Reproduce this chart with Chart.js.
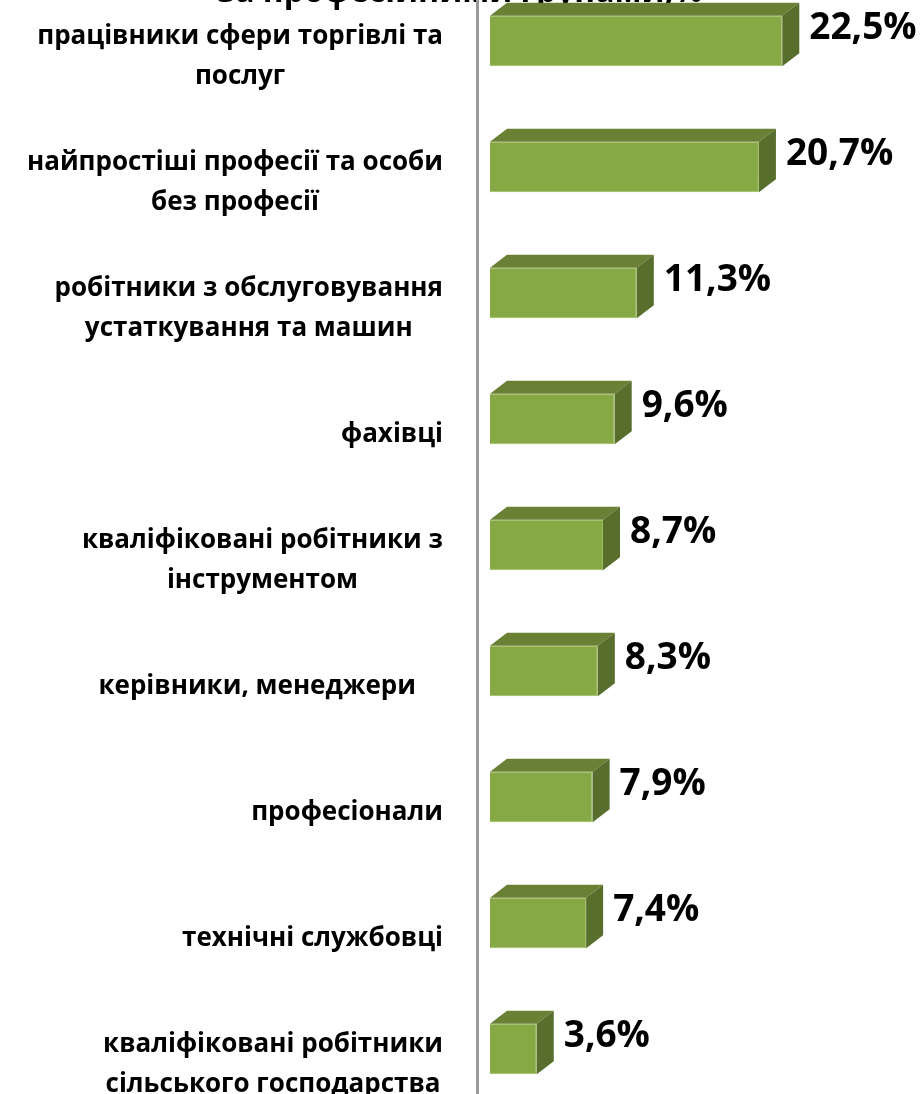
<!DOCTYPE html>
<html>
<head>
<meta charset="utf-8">
<script src="https://cdn.jsdelivr.net/npm/chart.js@4/dist/chart.umd.min.js"></script>
<style>
  html, body { margin: 0; padding: 0; background: #fff; overflow: hidden; width: 920px; height: 1094px; }
  #wrap { position: absolute; left: 0; top: -60px; width: 920px; height: 1172px; }
</style>
</head>
<body>
<div id="wrap"><canvas id="chart" width="920" height="1172"></canvas></div>
<script>
// data
const categories = [
  ['працівники сфери торгівлі та', 'послуг'],
  ['найпростіші професії та особи', 'без професії'],
  ['робітники з обслуговування', 'устаткування та машин'],
  ['фахівці'],
  ['кваліфіковані робітники з', 'інструментом'],
  ['керівники, менеджери    '],
  ['професіонали'],
  ['технічні службовці'],
  ['кваліфіковані робітники', 'сільського господарства']
];
const shares = [22.5, 20.7, 11.3, 9.6, 8.7, 8.3, 7.9, 7.4, 3.6];
const titleText = 'за професійними групами,%';

const FONT = '"Open Sans", "Noto Sans", sans-serif';
const DX = 17, DY = 13;   // 3d depth of the bars

// fake 3d: top + side faces, value labels, category labels
const bar3d = {
  id: 'bar3d',
  afterDatasetsDraw(chart) {
    const ctx = chart.ctx;
    const meta = chart.getDatasetMeta(0);
    ctx.save();
    meta.data.forEach((bar, i) => {
      const p = bar.getProps(['x', 'y', 'base', 'height'], true);
      const x0 = p.base, x1 = p.x;
      const top = p.y - p.height / 2, bot = p.y + p.height / 2;

      ctx.fillStyle = '#6A8035';
      ctx.beginPath();
      ctx.moveTo(x0, top);
      ctx.lineTo(x0 + DX, top - DY);
      ctx.lineTo(x1 + DX, top - DY);
      ctx.lineTo(x1, top);
      ctx.closePath();
      ctx.fill();

      ctx.fillStyle = '#576E2C';
      ctx.beginPath();
      ctx.moveTo(x1, top);
      ctx.lineTo(x1 + DX, top - DY);
      ctx.lineTo(x1 + DX, bot - DY);
      ctx.lineTo(x1, bot);
      ctx.closePath();
      ctx.fill();

      // value label
      ctx.fillStyle = '#000';
      ctx.font = 'bold 37px ' + FONT;
      ctx.textAlign = 'left';
      ctx.textBaseline = 'middle';
      ctx.fillText(shares[i].toFixed(1).replace('.', ',') + '%', x1 + DX + 10, top + 13);
    });

    // category labels, lines centred within block, block right aligned
    const yScale = chart.scales.y;
    ctx.font = 'bold 26px ' + FONT;
    ctx.textAlign = 'center';
    ctx.textBaseline = 'middle';
    ctx.fillStyle = '#000';
    categories.forEach((lines, i) => {
      const w = Math.max(...lines.map(l => ctx.measureText(l).width));
      const cx = 443 - w / 2;
      const cy = yScale.getPixelForTick(i) + 16;
      const lh = 40;
      lines.forEach((l, k) => {
        ctx.fillText(l, cx, cy + (k - (lines.length - 1) / 2) * lh);
      });
    });
    ctx.restore();
  }
};

new Chart(document.getElementById('chart'), {
  type: 'bar',
  data: {
    labels: categories,
    datasets: [{
      data: shares,
      backgroundColor: '#86A845',
      borderColor: '#9DBB5E',
      borderWidth: 1,
      categoryPercentage: 1,
      barPercentage: 0.4
    }]
  },
  options: {
    indexAxis: 'y',
    responsive: false,
    animation: false,
    devicePixelRatio: 1,
    layout: { padding: 0 },
    scales: {
      x: { display: false, min: -1, max: 33.1 },
      y: {
        ticks: { display: false },
        grid: { display: false },
        border: { display: true, color: '#9A9A9A', width: 3 },
        afterFit(scale) { scale.width = 477; }
      }
    },
    plugins: {
      legend: { display: false },
      tooltip: { enabled: false },
      title: {
        display: true,
        text: titleText,
        color: '#000',
        font: { family: FONT, size: 32, weight: 'bold', lineHeight: 1.2 },
        padding: { top: 34, bottom: -34.4 }
      }
    }
  },
  plugins: [bar3d]
});
</script>
</body>
</html>
